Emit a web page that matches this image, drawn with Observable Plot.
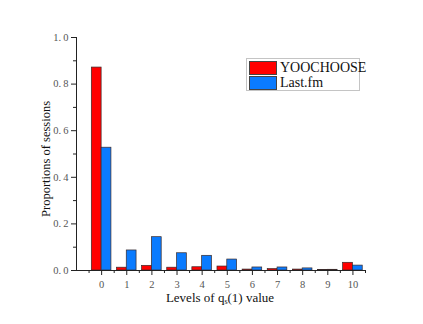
<!DOCTYPE html>
<html>
<head>
<meta charset="utf-8">
<script src="https://cdn.jsdelivr.net/npm/d3@7"></script>
<script src="https://cdn.jsdelivr.net/npm/@observablehq/plot@0.6"></script>
<style>
  body { margin: 0; background: #fff; }
  #wrap { position: relative; width: 423px; height: 324px; font-family: "Liberation Serif", serif; }
  #wrap svg { position: absolute; left: 0; top: 0; }
  .legend { position: absolute; left: 246px; top: 58px; width: 114px; height: 33px; border: 1px solid #c4c4c4; background: #fff; box-sizing: border-box; }
  .row { position: absolute; left: 2px; height: 15px; display: flex; align-items: center; font-size: 14px; color: #111; }
  .sw { width: 28px; height: 14px; border: 1px solid #444; box-sizing: border-box; margin-right: 3px; }
  .xtitle { position: absolute; left: 0; width: 440px; text-align: center; top: 291px; font-size: 13px; line-height: 13px; color: #111; }
  .xtitle sub { font-size: 8px; line-height: 8px; vertical-align: -2px; }
</style>
</head>
<body>
<div id="wrap"></div>
<script>
const levels = [0, 1, 2, 3, 4, 5, 6, 7, 8, 9, 10];
const yoochoose = [0.871, 0.012, 0.020, 0.012, 0.014, 0.017, 0.004, 0.006, 0.004, 0.002, 0.033];
const lastfm = [0.527, 0.086, 0.143, 0.074, 0.063, 0.047, 0.013, 0.013, 0.009, 0.003, 0.021];
const seriesNames = ["YOOCHOOSE", "Last.fm"];
const colors = ["#ff0000", "#0a7bff"];
const yMajor = [0, 0.2, 0.4, 0.6, 0.8, 1.0];
const yMinor = [0.1, 0.3, 0.5, 0.7, 0.9];
const xMinor = [-0.5, 0.5, 1.5, 2.5, 3.5, 4.5, 5.5, 6.5, 7.5, 8.5, 9.5, 10.5];

const rows = [];
levels.forEach((l, i) => {
  rows.push({level: l, series: seriesNames[0], value: yoochoose[i], side: -1});
  rows.push({level: l, series: seriesNames[1], value: lastfm[i], side: 1});
});
const bw = 0.39;
const serif = "Liberation Serif";

const chart = Plot.plot({
  width: 423,
  height: 324,
  marginLeft: 76,
  marginRight: 58,
  marginTop: 37,
  marginBottom: 54,
  style: {color: "#222", background: "transparent"},
  x: {domain: [-1, 10.5]},
  y: {domain: [0, 1]},
  color: {domain: seriesNames, range: colors},
  marks: [
    Plot.rectY(rows, {
      x1: d => d.side < 0 ? d.level - bw : d.level,
      x2: d => d.side < 0 ? d.level : d.level + bw,
      y: "value",
      fill: "series",
      stroke: "#3a2a2a",
      strokeWidth: 0.7
    }),
    Plot.ruleY([0], {stroke: "#222", strokeWidth: 1}),
    Plot.ruleX([-1], {y1: 0, y2: 1, stroke: "#222", strokeWidth: 1}),
    Plot.axisY({ticks: yMajor, tickSize: 5, tickPadding: 3, fontSize: 10.5, fill: "#555",
      tickFormat: d => d.toFixed(1).replace(".", ".\u2009"), label: null}),
    Plot.axisY({ticks: yMinor, tickSize: 3, tickFormat: () => "", label: null}),
    Plot.axisX({ticks: levels, tickSize: 5, tickPadding: 5, fontSize: 10.5, fill: "#555", tickFormat: d => String(d), label: null}),
    Plot.axisX({ticks: xMinor, tickSize: 3, tickFormat: () => "", label: null}),
    Plot.text(["Proportions of sessions"], {frameAnchor: "left", textAnchor: "middle", rotate: -90, dx: -31, dy: 5, fontSize: 12.5, fill: "#111"})
  ]
});
d3.select(chart).style("font-family", serif);
d3.select(chart).selectAll("g, text").attr("font-family", serif).style("font-family", serif);
const wrap = document.getElementById("wrap");
wrap.appendChild(chart);

const xt = document.createElement("div");
xt.className = "xtitle";
xt.innerHTML = "Levels of q<sub>s</sub>(1) value";
wrap.appendChild(xt);

const lg = document.createElement("div");
lg.className = "legend";
seriesNames.forEach((s, i) => {
  const r = document.createElement("div");
  r.className = "row";
  r.style.top = (1 + i * 15.5) + "px";
  const sw = document.createElement("div");
  sw.className = "sw";
  sw.style.background = colors[i];
  r.appendChild(sw);
  r.appendChild(document.createTextNode(s));
  lg.appendChild(r);
});
wrap.appendChild(lg);
</script>
</body>
</html>
